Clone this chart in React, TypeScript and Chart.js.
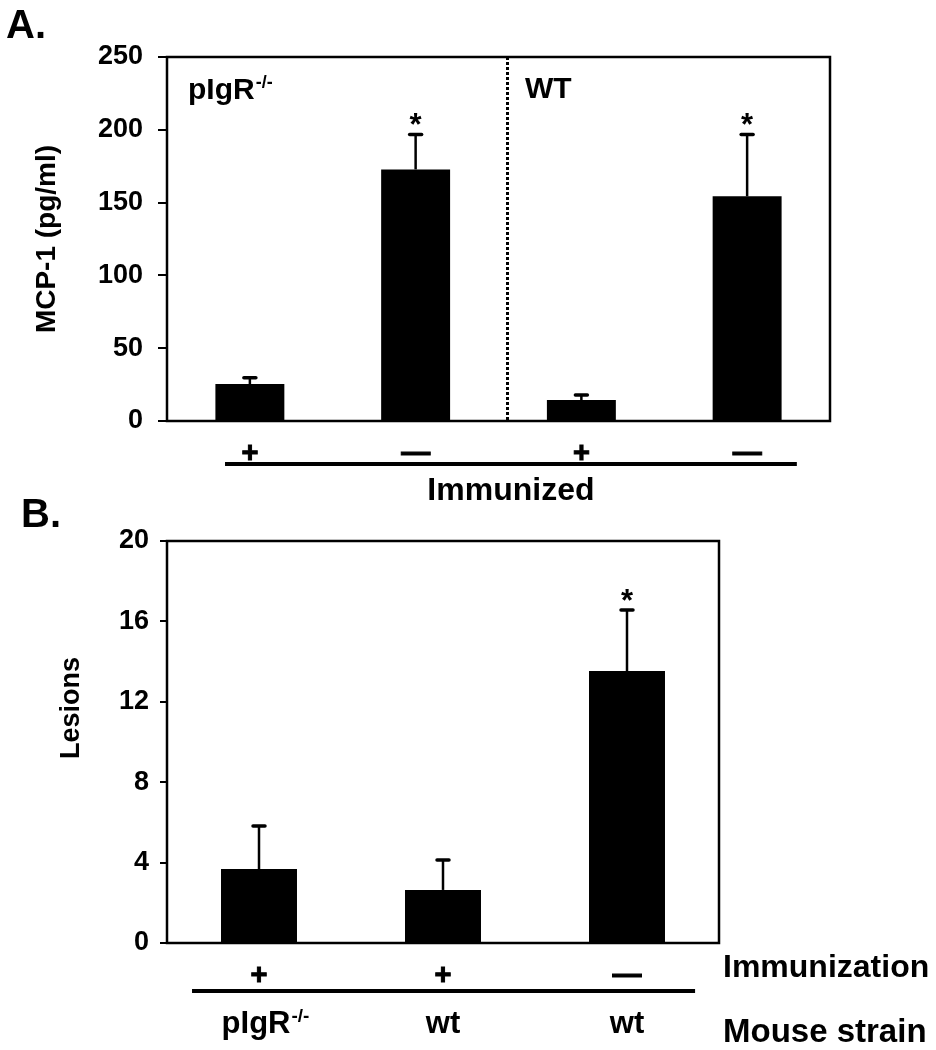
import React, { useEffect, useRef } from "react";
import { Chart, registerables } from "chart.js";

Chart.register(...registerables);

const FONT = "'Liberation Sans', Arial, Helvetica, sans-serif";

// ---------- Panel A data ----------
const aImmunized = ["+", "\u2014", "+", "\u2014"];
const aMcp1 = [25.4, 172.8, 14.4, 154.3];
const aMcp1Err = [4.3, 24.0, 3.4, 42.5];
const aSignificant = [false, true, false, true];
const aYTicks = [0, 50, 100, 150, 200, 250];

// ---------- Panel B data ----------
const bImmunization = ["+", "+", "\u2014"];
const bStrain = ["pIgR", "wt", "wt"];
const bStrainSup = ["-/-", "", ""];
const bLesions = [3.68, 2.64, 13.53];
const bLesionsErr = [2.14, 1.49, 3.04];
const bSignificant = [false, false, true];
const bYTicks = [0, 4, 8, 12, 16, 20];

function drawSupText(ctx: CanvasRenderingContext2D, base: string, sup: string, x: number, y: number, size: number, align: "left" | "center") {
  ctx.font = `bold ${size}px ${FONT}`;
  const wb = ctx.measureText(base).width;
  const supSize = Math.round(size * 0.6);
  ctx.font = `bold ${supSize}px ${FONT}`;
  const ws = sup ? ctx.measureText(sup).width : 0;
  const start = align === "center" ? x - (wb + ws) / 2 : x;
  ctx.textAlign = "left";
  ctx.textBaseline = "alphabetic";
  ctx.font = `bold ${size}px ${FONT}`;
  ctx.fillText(base, start, y);
  if (sup) {
    ctx.font = `bold ${supSize}px ${FONT}`;
    ctx.fillText(sup, start + wb + 1, y - size * 0.36);
  }
}

const errorBarPlugin = {
  id: "errorBars",
  afterDatasetsDraw(chart: any, _args: any, opts: any) {
    const meta = chart.getDatasetMeta(0);
    const ys = chart.scales.y;
    const ctx: CanvasRenderingContext2D = chart.ctx;
    const data = chart.data.datasets[0].data as number[];
    ctx.save();
    ctx.strokeStyle = "#000";
    ctx.fillStyle = "#000";
    meta.data.forEach((bar: any, i: number) => {
      const v = data[i];
      const e = opts.errors[i];
      const yTop = ys.getPixelForValue(v + e);
      const yBar = ys.getPixelForValue(v);
      ctx.lineWidth = 2.5;
      ctx.lineCap = "butt";
      ctx.beginPath();
      ctx.moveTo(bar.x, yBar);
      ctx.lineTo(bar.x, yTop);
      ctx.stroke();
      ctx.lineWidth = 3.5;
      ctx.lineCap = "round";
      ctx.beginPath();
      ctx.moveTo(bar.x - 6, yTop);
      ctx.lineTo(bar.x + 6, yTop);
      ctx.stroke();
      if (opts.stars[i]) {
        ctx.font = `bold 31px ${FONT}`;
        ctx.textAlign = "center";
        ctx.textBaseline = "alphabetic";
        ctx.fillText("*", bar.x, yTop + 1);
      }
    });
    ctx.restore();
  },
};

const boxPlugin = {
  id: "frameBox",
  afterDatasetsDraw(chart: any) {
    const { ctx, chartArea } = chart;
    ctx.save();
    ctx.strokeStyle = "#000";
    ctx.lineWidth = 2.5;
    ctx.lineCap = "square";
    ctx.strokeRect(chartArea.left, chartArea.top, chartArea.right - chartArea.left, chartArea.bottom - chartArea.top);
    ctx.restore();
  },
};

const panelAPlugin = {
  id: "panelA",
  afterDraw(chart: any) {
    const { ctx, chartArea } = chart;
    const xs = chart.scales.x;
    ctx.save();
    ctx.fillStyle = "#000";
    ctx.strokeStyle = "#000";
    // dotted divider
    const dx = Math.round(xs.getPixelForValue(1.55)) + 0.5;
    ctx.lineWidth = 3;
    ctx.setLineDash([3, 2]);
    ctx.beginPath();
    ctx.moveTo(dx, chartArea.top);
    ctx.lineTo(dx, chartArea.bottom);
    ctx.stroke();
    ctx.setLineDash([]);
    // group labels
    drawSupText(ctx, "pIgR", "-/-", chartArea.left + 21, chartArea.top + 42, 30, "left");
    ctx.font = `bold 30px ${FONT}`;
    ctx.textAlign = "left";
    ctx.fillText("WT", chartArea.left + 358, chartArea.top + 41);
    // underline
    const x1 = xs.getPixelForValue(-0.15);
    const x2 = xs.getPixelForValue(3.3);
    const uy = chartArea.bottom + 43;
    ctx.lineWidth = 4;
    ctx.beginPath();
    ctx.moveTo(x1, uy);
    ctx.lineTo(x2, uy);
    ctx.stroke();
    ctx.font = `bold 32px ${FONT}`;
    ctx.textAlign = "center";
    ctx.textBaseline = "alphabetic";
    ctx.fillText("Immunized", (x1 + x2) / 2, chartArea.bottom + 79);
    // panel letter
    ctx.font = `bold 40px ${FONT}`;
    ctx.textAlign = "left";
    ctx.fillText("A.", 6, 38);
    ctx.restore();
  },
};

const panelBPlugin = {
  id: "panelB",
  afterDraw(chart: any) {
    const { ctx, chartArea } = chart;
    const xs = chart.scales.x;
    ctx.save();
    ctx.fillStyle = "#000";
    ctx.strokeStyle = "#000";
    const x1 = xs.getPixelForValue(-0.364);
    const x2 = xs.getPixelForValue(2.37);
    const uy = chartArea.bottom + 48;
    ctx.lineWidth = 4;
    ctx.beginPath();
    ctx.moveTo(x1, uy);
    ctx.lineTo(x2, uy);
    ctx.stroke();
    bStrain.forEach((s, i) => {
      const shift = bStrainSup[i] ? 6 : 0;
      drawSupText(ctx, s, bStrainSup[i], xs.getPixelForValue(i) + shift, chartArea.bottom + 90, 31, "center");
    });
    ctx.textAlign = "left";
    ctx.textBaseline = "alphabetic";
    ctx.font = `bold 32px ${FONT}`;
    ctx.fillText("Immunization", 723, chartArea.bottom + 34);
    ctx.font = `bold 33px ${FONT}`;
    ctx.fillText("Mouse strain", 723, chartArea.bottom + 99);
    // y title
    ctx.save();
    ctx.translate(72, 218);
    ctx.rotate(-Math.PI / 2);
    ctx.font = `bold 27px ${FONT}`;
    ctx.textAlign = "center";
    ctx.textBaseline = "middle";
    ctx.fillText("Lesions", 0, 0);
    ctx.restore();
    // panel letter
    ctx.font = `bold 40px ${FONT}`;
    ctx.textAlign = "left";
    ctx.fillText("B.", 21, 37);
    ctx.restore();
  },
};

const xTickStyle = {
  color: "#000",
  font: { family: FONT, size: 29, weight: "bold" },
  padding: 8,
  maxRotation: 0,
  textStrokeColor: "#000",
  textStrokeWidth: 1,
};

function PanelA() {
  const ref = useRef<HTMLCanvasElement>(null);
  useEffect(() => {
    const chart = new Chart(ref.current!, {
      type: "bar",
      data: {
        labels: aImmunized,
        datasets: [
          {
            data: aMcp1,
            backgroundColor: "#000",
            borderWidth: 0,
            categoryPercentage: 1,
            barPercentage: 0.416,
          },
        ],
      },
      options: {
        responsive: false,
        animation: false,
        devicePixelRatio: 1,
        layout: { padding: { top: 57, right: 106, left: 0, bottom: 0 } },
        plugins: {
          legend: { display: false },
          tooltip: { enabled: false },
          errorBars: { errors: aMcp1Err, stars: aSignificant },
        } as any,
        scales: {
          x: {
            grid: { display: false },
            border: { display: false },
            ticks: xTickStyle,
            afterFit: (s: any) => {
              s.height = 89;
            },
          },
          y: {
            min: 0,
            max: 250,
            afterBuildTicks: (s: any) => {
              s.ticks = aYTicks.map((v) => ({ value: v }));
            },
            grid: { display: true, drawOnChartArea: false, drawTicks: true, tickLength: 9, color: "#000", lineWidth: 2 },
            border: { display: false },
            ticks: { color: "#000", font: { family: FONT, size: 27, weight: "bold" }, padding: 15 },
            title: {
              display: true,
              text: "MCP-1 (pg/ml)",
              color: "#000",
              font: { family: FONT, size: 28, weight: "bold" },
              padding: { top: 30, bottom: 0 },
            },
            afterFit: (s: any) => {
              s.width = 167;
            },
          },
        },
      } as any,
      plugins: [errorBarPlugin, boxPlugin, panelAPlugin],
    });
    return () => chart.destroy();
  }, []);
  return <canvas ref={ref} width={936} height={510} style={{ position: "absolute", left: 0, top: 0, width: 936, height: 510 }} />;
}

function PanelB() {
  const ref = useRef<HTMLCanvasElement>(null);
  useEffect(() => {
    const chart = new Chart(ref.current!, {
      type: "bar",
      data: {
        labels: bImmunization,
        datasets: [
          {
            data: bLesions,
            backgroundColor: "#000",
            borderWidth: 0,
            categoryPercentage: 1,
            barPercentage: 0.413,
          },
        ],
      },
      options: {
        responsive: false,
        animation: false,
        devicePixelRatio: 1,
        layout: { padding: { top: 51, right: 217, left: 0, bottom: 0 } },
        plugins: {
          legend: { display: false },
          tooltip: { enabled: false },
          errorBars: { errors: bLesionsErr, stars: bSignificant },
        } as any,
        scales: {
          x: {
            grid: { display: false },
            border: { display: false },
            ticks: xTickStyle,
            afterFit: (s: any) => {
              s.height = 107;
            },
          },
          y: {
            min: 0,
            max: 20,
            afterBuildTicks: (s: any) => {
              s.ticks = bYTicks.map((v) => ({ value: v }));
            },
            grid: { display: true, drawOnChartArea: false, drawTicks: true, tickLength: 7, color: "#000", lineWidth: 2 },
            border: { display: false },
            ticks: { color: "#000", font: { family: FONT, size: 27, weight: "bold" }, padding: 11 },
            afterFit: (s: any) => {
              s.width = 167;
            },
          },
        },
      } as any,
      plugins: [errorBarPlugin, boxPlugin, panelBPlugin],
    });
    return () => chart.destroy();
  }, []);
  return <canvas ref={ref} width={936} height={560} style={{ position: "absolute", left: 0, top: 490, width: 936, height: 560 }} />;
}

export default function App() {
  return (
    <div style={{ position: "absolute", left: 0, top: 0, width: 936, height: 1050, background: "#fff", overflow: "hidden" }}>
      <PanelA />
      <PanelB />
    </div>
  );
}
